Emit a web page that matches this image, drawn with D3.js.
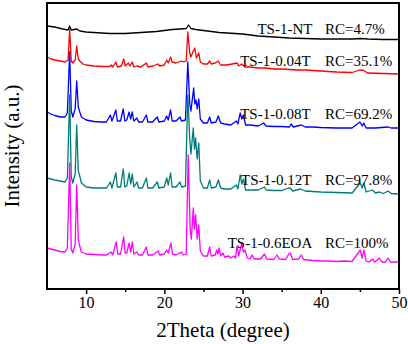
<!DOCTYPE html>
<html>
<head>
<meta charset="utf-8">
<script src="https://cdn.jsdelivr.net/npm/d3@7"></script>
<style>
  html, body { margin: 0; padding: 0; background: #fff; }
  svg { display: block; }
</style>
</head>
<body>
<svg id="chart" width="408" height="344"></svg>
<script>
// ---- data (2Theta in degrees, stacked intensity in a.u.) ----
const xTicks = [10, 20, 30, 40, 50];
const xMinorTicks = [15, 25, 35, 45];

const seriesNames = ["TS-1-NT", "TS-1-0.04T", "TS-1-0.08T", "TS-1-0.12T", "TS-1-0.6EOA"];
const rcLabels = ["RC=4.7%", "RC=35.1%", "RC=69.2%", "RC=97.8%", "RC=100%"];
const seriesColors = ["#000000", "#ff0000", "#0000ff", "#007b78", "#ff00ff"];

const ntData = [[5,263],[6,262],[7,260],[7.7,259],[7.9,263],[8.1,259],[8.8,260],[9.2,258],[10,257],[11,256.5],[12,256],[13,255.5],[14,255.5],[15,255.5],[16,256],[17,256.5],[18,257],[19,257.5],[20,258.5],[21,259.5],[22,260],[22.8,260.5],[23.1,264],[23.4,260.5],[24,259.5],[25,258.5],[26,257.5],[27,256.5],[28,256],[29,255.5],[30,255],[31,254],[32,253],[33,252.5],[34,252],[35,251.5],[36,251],[38,250.5],[40,250],[42,250],[44,250],[45.1,250.5],[46,250],[48,249.5],[50,249.5]];

const t004Data = [[5,232],[5.5,230],[6,229],[6.7,228],[7.3,227],[7.7,229],[7.9,260],[8.1,228],[8.3,226],[8.6,229],[8.8,243],[9.0,230],[9.2,228],[9.6,225],[10,224],[11,223],[12,222.5],[13,222.5],[13.2,224],[13.4,222],[13.8,227],[14.0,222],[14.5,223],[14.8,230],[15.0,223],[15.4,226],[15.6,223],[15.9,227],[16.1,222],[16.5,223],[17.0,222],[17.7,226],[17.9,222],[18.5,223],[19.2,225],[19.4,223],[20,224],[20.3,229],[20.5,226],[20.8,232],[21.0,227],[21.5,226],[22.2,228],[22.5,227],[22.8,228],[23.0,257],[23.25,236],[23.4,232],[23.7,238],[23.9,241],[24.1,231],[24.4,236],[24.6,227],[25,225],[25.5,225],[25.8,228],[26.0,225],[26.5,226],[26.9,228],[27.2,224],[28,224],[29.3,226],[29.5,223],[29.9,225],[30.3,222],[31,222],[32,221],[33,221],[34,220],[35,220],[36,219.5],[37,219],[38,219],[40,218],[42,217],[44,216.5],[45.0,219],[45.5,218.5],[46,216],[48,215.5],[50,215]];

const t008Data = [[5,177],[5.5,175],[6,173.5],[6.7,172],[7.3,172],[7.6,176],[7.9,237],[8.1,178],[8.3,172],[8.6,180],[8.8,208],[9.0,182],[9.15,178],[9.4,172],[10,169],[11,167.5],[12,167],[12.6,167],[13.1,174],[13.3,168],[13.8,179],[14.0,168],[14.4,168],[14.75,180],[14.95,168],[15.2,169],[15.5,177],[15.7,170],[15.9,177],[16.1,168],[16.5,171],[16.7,167],[17.2,167],[17.7,174],[17.9,167],[18.5,167],[19.1,172],[19.3,167],[20,168],[20.3,173],[20.5,169],[20.8,179],[21.0,168],[21.5,168],[22.0,172],[22.2,168],[22.7,169],[23.0,227],[23.25,185],[23.4,178],[23.75,201],[23.9,185],[24.05,189],[24.2,180],[24.4,190],[24.6,170],[25,166],[25.5,166],[25.8,172],[26.0,166],[26.6,167],[26.9,173],[27.2,166],[27.7,165],[28.5,164],[29.2,168],[29.4,165],[29.7,176],[29.9,170],[30.1,174],[30.4,164],[31,164],[32,163],[32.7,166],[33,163],[34,162.5],[35,162.5],[36,162],[36.2,165],[36.5,162],[37.5,164],[38,162],[39,162],[40,161.5],[42,161],[44,161],[45.0,167],[45.3,163],[45.5,166],[45.8,161],[47,161],[48.6,162],[49,161],[50,161]];

const t012Data = [[5,111],[5.5,110],[6,109],[6.7,108],[7.3,107],[7.6,111],[7.9,194],[8.1,112],[8.3,106],[8.6,115],[8.8,164],[9.0,118],[9.15,114],[9.4,106],[10,102],[11,101],[12,101],[12.6,101],[13.1,107],[13.3,101],[13.8,116],[14.0,102],[14.4,102],[14.75,120],[14.95,102],[15.2,103],[15.5,116],[15.7,105],[15.9,115],[16.1,102],[16.5,107],[16.7,101],[17.2,101],[17.7,111],[17.9,101],[18.5,101],[19.1,107],[19.3,101],[20,102],[20.3,111],[20.5,104],[20.8,116],[21.0,102],[21.5,102],[22.0,107],[22.2,102],[22.7,103],[23.0,194],[23.25,150],[23.4,135],[23.7,161],[23.85,140],[24.0,151],[24.2,130],[24.4,146],[24.6,108],[25,101],[25.5,101],[25.8,109],[26.0,101],[26.6,102],[26.9,109],[27.2,101],[27.7,100],[28.5,100],[29.2,104],[29.4,100],[29.7,114],[29.9,105],[30.1,110],[30.4,99],[31,99],[32,99],[32.8,102],[33,99],[34,98.5],[35,98.5],[35.9,101],[36.1,101],[36.4,98],[37.4,100],[38,98],[39,97.5],[40,97],[42,96.5],[44,96],[45.05,106],[45.3,101],[45.5,106],[45.8,97],[46.6,99],[47,96],[47.5,97],[48,95.5],[48.6,98],[49,95.5],[50,95]];

const eoaData = [[5,41],[5.5,40],[6,39],[6.7,37.5],[7.3,37],[7.6,41],[7.9,126],[8.1,40],[8.3,36],[8.6,45],[8.8,104],[9.0,50],[9.15,44],[9.4,37],[10,35],[11,34.5],[12,34],[12.6,34],[13.2,37],[13.4,34],[13.85,47],[14.05,35],[14.4,35],[14.8,52],[15.0,36],[15.2,36],[15.5,46],[15.7,37],[15.9,47],[16.1,35],[16.5,37],[16.7,34],[17.2,34],[17.7,42],[17.9,34],[18.5,34],[19.2,38],[19.4,34],[20,35],[20.3,39],[20.5,36],[20.85,46],[21.05,35],[21.5,34],[22.2,37],[22.4,34],[22.8,35],[23.05,134],[23.3,60],[23.45,50],[23.7,81],[23.85,60],[24.0,74],[24.2,50],[24.4,64],[24.6,38],[25,33],[25.5,33],[25.8,42],[26.0,33],[26.5,34],[26.7,39],[26.85,35],[27.0,41],[27.2,33],[27.5,36],[27.7,32],[28.2,33],[28.5,31],[28.9,33],[29.1,31],[29.3,43],[29.5,33],[29.9,46],[30.1,37],[30.3,39],[30.6,31],[31,30],[31.2,34],[31.5,30],[32.3,30],[32.8,35],[33.1,30],[34,29.5],[34.4,34],[34.7,30],[35.5,29.5],[35.9,35],[36.1,36],[36.4,29.5],[37.2,30],[37.5,34],[37.8,29.5],[38.5,29],[39,28.5],[40,28],[41,28],[42,27.5],[43,28],[44,27.5],[45.05,39],[45.3,31],[45.5,39],[45.8,28],[46.2,27],[46.6,30],[46.9,27],[47.5,31],[47.8,27],[48.3,27],[48.6,31],[48.9,27],[50,27]];

const allSeries = [ntData, t004Data, t008Data, t012Data, eoaData];

// label anchors: [2Theta where name starts, intensity of name baseline]
const nameStartX = [31.9, 29.7, 29.7, 29.8, 28.1];
const labelBaseY = [255, 223, 170, 104, 41];
const rcStartX = 40.55;

// ---- drawing ----
const FONT = "'Liberation Serif', Tinos, 'Times New Roman', 'Nimbus Roman', 'DejaVu Serif', serif";
const svg = d3.select("#chart");
const mLeft = 47, mRight = 399, mTop = 3, mBottom = 289;

const x = d3.scaleLinear().domain([5, 50]).range([mLeft, mRight]);
const y = d3.scaleLinear().domain([0, 286]).range([mBottom, mTop]);

const line = d3.line().x(d => x(d[0])).y(d => y(d[1]));

allSeries.forEach((s, i) => {
  svg.append("path")
    .datum(s)
    .attr("d", line)
    .attr("fill", "none")
    .attr("stroke", seriesColors[i])
    .attr("stroke-width", 1.3)
    .attr("stroke-linejoin", "round");
});

// labels
seriesNames.forEach((n, i) => {
  svg.append("text")
    .attr("x", x(nameStartX[i]))
    .attr("y", y(labelBaseY[i]))
    .attr("font-family", FONT)
    .attr("font-size", 15)
    .text(n);
  svg.append("text")
    .attr("x", x(rcStartX))
    .attr("y", y(labelBaseY[i]))
    .attr("font-family", FONT)
    .attr("font-size", 15)
    .text(rcLabels[i]);
});

// frame
svg.append("rect")
  .attr("x", mLeft).attr("y", mTop)
  .attr("width", mRight - mLeft).attr("height", mBottom - mTop)
  .attr("fill", "none").attr("stroke", "#000").attr("stroke-width", 2);

// bottom axis
const xAxis = d3.axisBottom(x).tickValues(xTicks).tickSize(5).tickSizeOuter(0).tickPadding(3).tickFormat(d3.format("d"));
const gx = svg.append("g").attr("transform", `translate(0,${mBottom})`).call(xAxis)
  .attr("font-family", FONT).attr("font-size", 16);
gx.select(".domain").remove();
gx.selectAll(".tick line").attr("stroke", "#000").attr("stroke-width", 1.5);
gx.selectAll(".tick text").attr("fill", "#000");

const gxm = svg.append("g").attr("transform", `translate(0,${mBottom})`)
  .call(d3.axisBottom(x).tickValues(xMinorTicks).tickSize(3).tickSizeOuter(0).tickFormat(""));
gxm.select(".domain").remove();
gxm.selectAll(".tick line").attr("stroke", "#000").attr("stroke-width", 1.5);

// axis titles
svg.append("text")
  .attr("x", (mLeft + mRight) / 2).attr("y", 337)
  .attr("text-anchor", "middle")
  .attr("font-family", FONT).attr("font-size", 21)
  .text("2Theta (degree)");

svg.append("text")
  .attr("transform", `translate(19,${(mTop + mBottom) / 2}) rotate(-90)`)
  .attr("text-anchor", "middle")
  .attr("font-family", FONT).attr("font-size", 21)
  .text("Intensity (a.u.)");
</script>
</body>
</html>
